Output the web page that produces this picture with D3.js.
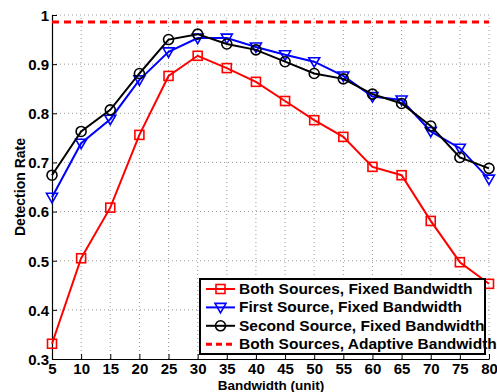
<!DOCTYPE html>
<html>
<head>
<meta charset="utf-8">
<script src="https://cdn.jsdelivr.net/npm/d3@7"></script>
<style>
  body { margin: 0; background: #fff; }
  svg text { font-family: "Liberation Sans", Arial, sans-serif; font-weight: bold; fill: #000; }
</style>
</head>
<body>
<svg id="chart"></svg>
<script>
// 数据
const bandwidth = [5, 10, 15, 20, 25, 30, 35, 40, 45, 50, 55, 60, 65, 70, 75, 80];
const bothFixed = [0.331, 0.505, 0.608, 0.756, 0.876, 0.917, 0.892, 0.864, 0.825, 0.786, 0.752, 0.691, 0.674, 0.581, 0.497, 0.453];
const firstFixed = [0.629, 0.739, 0.788, 0.868, 0.925, 0.953, 0.953, 0.935, 0.919, 0.905, 0.876, 0.834, 0.827, 0.763, 0.729, 0.666];
const secondFixed = [0.674, 0.763, 0.807, 0.881, 0.950, 0.961, 0.941, 0.929, 0.905, 0.881, 0.870, 0.839, 0.820, 0.774, 0.710, 0.688];
const bothAdaptive = 0.986;
const yTicks = [0.3, 0.4, 0.5, 0.6, 0.7, 0.8, 0.9, 1];
const legendLabels = [
    "Both Sources, Fixed Bandwidth",
    "First Source, Fixed Bandwidth",
    "Second Source, Fixed Bandwidth",
    "Both Sources, Adaptive Bandwidth"
];

let width = 497, height = 392;
let svg = d3.select('#chart').attr('width', width).attr('height', height);

let x = d3.scaleLinear().domain([5, 80]).range([52, 489]);
let y = d3.scaleLinear().domain([0.3, 1]).range([359, 15]);

// 网格
let grid = svg.append('g')
    .attr('stroke', '#999')
    .attr('stroke-width', 1)
    .attr('stroke-dasharray', '1,3');
grid.selectAll('.vg').data(bandwidth.slice(1))
    .join('line')
    .attr('x1', d => x(d)).attr('x2', d => x(d))
    .attr('y1', y(0.3)).attr('y2', y(1));
grid.selectAll('.hg').data(yTicks.slice(1))
    .join('line')
    .attr('x1', x(5)).attr('x2', x(80))
    .attr('y1', d => y(d)).attr('y2', d => y(d));

// 坐标轴，刻度向内
let xAxis = svg.append('g')
    .attr('transform', `translate(0,${y(0.3)})`)
    .call(d3.axisBottom(x).tickValues(bandwidth).tickSize(-5).tickPadding(4).tickSizeOuter(0));
let yAxis = svg.append('g')
    .attr('transform', `translate(${x(5)},0)`)
    .call(d3.axisLeft(y).tickValues(yTicks).tickFormat(d => d === 1 ? '1' : d3.format('.1f')(d)).tickSize(-5).tickPadding(3).tickSizeOuter(0));
[xAxis, yAxis].forEach(a => {
    a.select('.domain').attr('stroke', '#000').attr('stroke-width', 1.2);
    a.selectAll('.tick line').attr('stroke', '#000');
    a.selectAll('text').style('font-size', '15px').style('font-family', '"Liberation Sans", Arial, sans-serif').style('font-weight', 'bold');
});
yAxis.selectAll('text').attr('dy', '0.36em');

svg.append('text')
    .attr('x', 271).attr('y', 390)
    .attr('text-anchor', 'middle')
    .style('font-size', '13.5px')
    .text('Bandwidth (unit)');
svg.append('text')
    .attr('transform', 'translate(25,187) rotate(-90)')
    .attr('text-anchor', 'middle')
    .style('font-size', '14px')
    .text('Detection Rate');

// 自适应带宽的虚线
svg.append('line')
    .attr('x1', x(5)).attr('x2', x(80))
    .attr('y1', y(bothAdaptive)).attr('y2', y(bothAdaptive))
    .attr('stroke', '#ff0000').attr('stroke-width', 3)
    .attr('stroke-dasharray', '7,5');

let series = [
    { values: bothFixed, color: '#ff0000', marker: 'square' },
    { values: firstFixed, color: '#0000ff', marker: 'triangle' },
    { values: secondFixed, color: '#000000', marker: 'circle' }
];

let line = d3.line().x((d, i) => x(bandwidth[i])).y(d => y(d));

function drawMarker(g, type, color, cx, cy) {
    if (type === 'square') {
        g.append('rect').attr('x', cx - 4.5).attr('y', cy - 4.5).attr('width', 9).attr('height', 9)
            .attr('fill', 'none').attr('stroke', color).attr('stroke-width', 1.6);
    } else if (type === 'triangle') {
        g.append('path').attr('d', `M${cx - 5.5},${cy - 4}L${cx + 5.5},${cy - 4}L${cx},${cy + 5.5}Z`)
            .attr('fill', 'none').attr('stroke', color).attr('stroke-width', 1.6);
    } else {
        g.append('circle').attr('cx', cx).attr('cy', cy).attr('r', 5)
            .attr('fill', 'none').attr('stroke', color).attr('stroke-width', 1.6);
    }
}

series.forEach(s => {
    let g = svg.append('g');
    g.append('path').datum(s.values)
        .attr('d', line)
        .attr('fill', 'none')
        .attr('stroke', s.color)
        .attr('stroke-width', 2);
    s.values.forEach((v, i) => drawMarker(g, s.marker, s.color, x(bandwidth[i]), y(v)));
});

// 图例
let lg = svg.append('g');
lg.append('rect')
    .attr('x', 200).attr('y', 279).attr('width', 285).attr('height', 75)
    .attr('fill', '#fff').attr('stroke', '#000').attr('stroke-width', 2);
legendLabels.forEach((t, i) => {
    let ly = 289 + i * 18.4;
    if (i < 3) {
        let s = series[i];
        lg.append('line').attr('x1', 206).attr('x2', 235).attr('y1', ly).attr('y2', ly)
            .attr('stroke', s.color).attr('stroke-width', 2);
        drawMarker(lg, s.marker, s.color, 220.5, ly);
    } else {
        lg.append('line').attr('x1', 206).attr('x2', 235).attr('y1', ly).attr('y2', ly)
            .attr('stroke', '#ff0000').attr('stroke-width', 3).attr('stroke-dasharray', '6,4');
    }
    lg.append('text').attr('x', 239).attr('y', ly + 5)
        .style('font-size', '15.5px')
        .text(t);
});
</script>
</body>
</html>
